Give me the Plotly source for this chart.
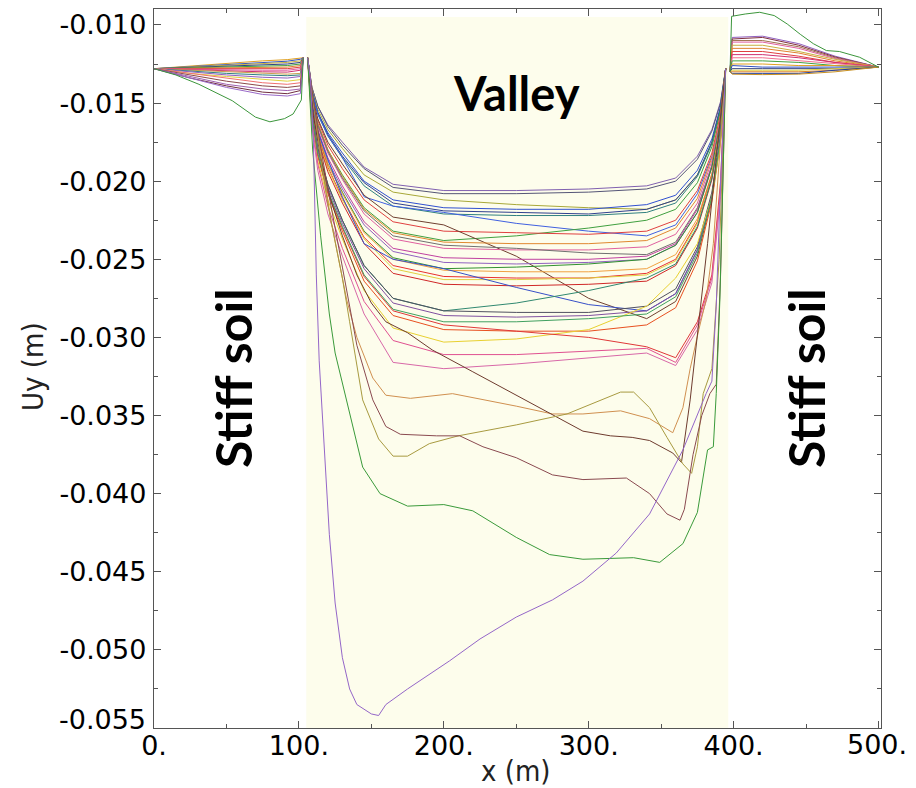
import plotly.graph_objects as go

# ---------------- data ----------------
# Left stiff-soil block
x_left = [0, 25, 50, 75, 92, 101, 103]
left_01 = [-0.0128, -0.01262, -0.01245, -0.0123, -0.01222, -0.01212, -0.0121]
left_02 = [-0.0128, -0.01266, -0.01252, -0.0124, -0.01232, -0.0122, -0.0121]
left_03 = [-0.0128, -0.0127, -0.01258, -0.01248, -0.0124, -0.0123, -0.0121]
left_04 = [-0.0128, -0.01272, -0.01264, -0.01256, -0.0125, -0.0124, -0.0121]
left_05 = [-0.0128, -0.01275, -0.0127, -0.01264, -0.0126, -0.0125, -0.0121]
left_06 = [-0.0128, -0.01278, -0.01275, -0.01272, -0.0127, -0.0126, -0.0121]
left_07 = [-0.0128, -0.0128, -0.0128, -0.0128, -0.0128, -0.0127, -0.0121]
left_08 = [-0.0128, -0.01284, -0.01288, -0.0129, -0.0129, -0.0128, -0.0121]
left_09 = [-0.0128, -0.01288, -0.01295, -0.0130, -0.01302, -0.0129, -0.0121]
left_10 = [-0.0128, -0.0129, -0.0130, -0.0131, -0.01315, -0.0131, -0.0121]
left_11 = [-0.0128, -0.01295, -0.0131, -0.0132, -0.01325, -0.0132, -0.0121]
left_12 = [-0.0128, -0.0130, -0.0132, -0.01335, -0.0134, -0.0133, -0.0121]
left_13 = [-0.0128, -0.0131, -0.0133, -0.0135, -0.0136, -0.0135, -0.0121]
left_14 = [-0.0128, -0.0131, -0.0134, -0.0137, -0.0138, -0.0137, -0.0121]
left_15 = [-0.0128, -0.0132, -0.0136, -0.0139, -0.0140, -0.0139, -0.0121]
left_16 = [-0.0128, -0.0133, -0.0138, -0.0141, -0.0142, -0.0141, -0.0121]
left_17 = [-0.0128, -0.0134, -0.0139, -0.0143, -0.0144, -0.0142, -0.0121]
left_18 = [-0.0128, -0.0134, -0.0140, -0.01445, -0.01455, -0.0144, -0.0121]
x_left_green = [0, 15, 31, 54, 70, 80, 90, 96, 101.7, 103]
left_green = [-0.0128, -0.0132, -0.0138, -0.01485, -0.0159, -0.0162, -0.0160, -0.0157, -0.0148, -0.0121]
left_colors = ["#E0A020", "#3050C0", "#C8B040", "#304080", "#40A040", "#E08030",
               "#E04040", "#E060A0", "#D03070", "#C8A050", "#2F8080", "#9060C0",
               "#E0D040", "#F07070", "#8B4A4A", "#A060B0", "#703040", "#9A6AC8"]

# Right stiff-soil block
x_right = [397.5, 399, 420, 445, 470, 500]
right_01 = [-0.0130, -0.0108, -0.01072, -0.0112, -0.0120, -0.0127]
right_02 = [-0.0130, -0.0109, -0.0108, -0.0113, -0.01205, -0.0127]
right_03 = [-0.0130, -0.0110, -0.0110, -0.0114, -0.0121, -0.0127]
right_04 = [-0.0130, -0.0111, -0.0111, -0.0115, -0.01215, -0.0127]
right_05 = [-0.0130, -0.0113, -0.0113, -0.0117, -0.0122, -0.0127]
right_06 = [-0.0130, -0.0115, -0.0115, -0.0118, -0.0123, -0.0127]
right_07 = [-0.0130, -0.0117, -0.0117, -0.0120, -0.0124, -0.0127]
right_08 = [-0.0130, -0.0119, -0.0119, -0.0121, -0.0124, -0.0127]
right_09 = [-0.0130, -0.0121, -0.0121, -0.0123, -0.0125, -0.0127]
right_10 = [-0.0130, -0.0123, -0.0123, -0.0124, -0.0126, -0.0127]
right_11 = [-0.0130, -0.0125, -0.0125, -0.0126, -0.0126, -0.0127]
right_12 = [-0.0130, -0.0126, -0.0127, -0.0127, -0.0127, -0.0127]
right_13 = [-0.0130, -0.0128, -0.0128, -0.0128, -0.0128, -0.0127]
right_14 = [-0.0130, -0.0129, -0.0129, -0.0129, -0.0128, -0.0127]
right_15 = [-0.0130, -0.0130, -0.0130, -0.0130, -0.0129, -0.0127]
right_16 = [-0.0130, -0.0131, -0.0131, -0.0131, -0.0129, -0.0127]
right_17 = [-0.0130, -0.01315, -0.01318, -0.01315, -0.0130, -0.0127]
x_right_green = [397.5, 398.6, 408, 418, 428, 437, 446, 455, 464, 473, 487, 500]
right_green = [-0.0130, -0.00945, -0.0093, -0.00919, -0.0094, -0.00994, -0.0106,
               -0.0112, -0.01164, -0.0117, -0.01207, -0.0127]
right_colors = ["#9060C0", "#803040", "#A07050", "#E060A0", "#C8B040", "#E08030",
                "#E04040", "#D03070", "#F07090", "#40A040", "#E0A020", "#3050C0",
                "#304080", "#E0D040", "#E08020", "#2040A0", "#C89020"]

# Valley block: upper family on a common x grid
x_valley = [106, 109, 113, 120, 130, 145, 165, 200, 250, 300, 340, 360, 375, 385, 391, 394.5]
v01 = [-0.0121, -0.0140, -0.0152, -0.0164, -0.0175, -0.0191, -0.0202, -0.0206, -0.0206, -0.0205, -0.0203, -0.0198, -0.0184, -0.0167, -0.0149, -0.0128]
v02 = [-0.0121, -0.0140, -0.0152, -0.0165, -0.0177, -0.0192, -0.0204, -0.0208, -0.0208, -0.0207, -0.0205, -0.0200, -0.0186, -0.0168, -0.0150, -0.0128]
v03 = [-0.0121, -0.0141, -0.0154, -0.0167, -0.0179, -0.0196, -0.0207, -0.0212, -0.0215, -0.0217, -0.0218, -0.0212, -0.0196, -0.0175, -0.0153, -0.0128]
v04 = [-0.0121, -0.0142, -0.0156, -0.0169, -0.0182, -0.0200, -0.0212, -0.0217, -0.0218, -0.0218, -0.0215, -0.0209, -0.0193, -0.0173, -0.0152, -0.0128]
v05 = [-0.0121, -0.0143, -0.0156, -0.0170, -0.0184, -0.0201, -0.0214, -0.0219, -0.0220, -0.0221, -0.0218, -0.0212, -0.0196, -0.0175, -0.0153, -0.0128]
v06 = [-0.0121, -0.0143, -0.0157, -0.0171, -0.0185, -0.0203, -0.0216, -0.0221, -0.0222, -0.0222, -0.0220, -0.0214, -0.0197, -0.0176, -0.0154, -0.0128]
v07 = [-0.0121, -0.0143, -0.0157, -0.0171, -0.0185, -0.0210, -0.0216, -0.0220, -0.0227, -0.0232, -0.0235, -0.0228, -0.0208, -0.0184, -0.0158, -0.0128]
v08 = [-0.0121, -0.0147, -0.0163, -0.0180, -0.0196, -0.0217, -0.0232, -0.0238, -0.0235, -0.0230, -0.0225, -0.0218, -0.0201, -0.0178, -0.0155, -0.0128]
v09 = [-0.0121, -0.0145, -0.0161, -0.0177, -0.0192, -0.0212, -0.0226, -0.0232, -0.0233, -0.0234, -0.0232, -0.0225, -0.0206, -0.0182, -0.0157, -0.0128]
v10 = [-0.0121, -0.0145, -0.0160, -0.0175, -0.0189, -0.0209, -0.0223, -0.0228, -0.0248, -0.0275, -0.0288, -0.0277, -0.0248, -0.0211, -0.0173, -0.0128]
v11 = [-0.0121, -0.0147, -0.0163, -0.0180, -0.0197, -0.0218, -0.0233, -0.0239, -0.0240, -0.0240, -0.0238, -0.0230, -0.0211, -0.0185, -0.0159, -0.0128]
v12 = [-0.0121, -0.0148, -0.0165, -0.0182, -0.0199, -0.0221, -0.0237, -0.0243, -0.0244, -0.0244, -0.0242, -0.0234, -0.0214, -0.0187, -0.0160, -0.0128]
v13 = [-0.0121, -0.0147, -0.0164, -0.0181, -0.0198, -0.0219, -0.0235, -0.0241, -0.0243, -0.0246, -0.0247, -0.0239, -0.0217, -0.0190, -0.0161, -0.0128]
v14 = [-0.0121, -0.0149, -0.0167, -0.0185, -0.0203, -0.0226, -0.0243, -0.0249, -0.0250, -0.0250, -0.0248, -0.0240, -0.0218, -0.0190, -0.0162, -0.0128]
v15 = [-0.0121, -0.0150, -0.0168, -0.0187, -0.0205, -0.0228, -0.0245, -0.0252, -0.0253, -0.0252, -0.0250, -0.0241, -0.0220, -0.0191, -0.0162, -0.0128]
v16 = [-0.0121, -0.0151, -0.0170, -0.0189, -0.0207, -0.0232, -0.0249, -0.0256, -0.0255, -0.0253, -0.0250, -0.0241, -0.0220, -0.0191, -0.0162, -0.0128]
v17 = [-0.0121, -0.0151, -0.0170, -0.0189, -0.0208, -0.0233, -0.0250, -0.0257, -0.0258, -0.0258, -0.0256, -0.0247, -0.0224, -0.0195, -0.0164, -0.0128]
v18 = [-0.0121, -0.0152, -0.0171, -0.0191, -0.0211, -0.0236, -0.0254, -0.0261, -0.0262, -0.0262, -0.0259, -0.0250, -0.0226, -0.0196, -0.0165, -0.0128]
v19 = [-0.0121, -0.0152, -0.0172, -0.0192, -0.0212, -0.0237, -0.0256, -0.0263, -0.0263, -0.0262, -0.0260, -0.0251, -0.0227, -0.0197, -0.0165, -0.0128]
v20 = [-0.0121, -0.0153, -0.0173, -0.0194, -0.0214, -0.0240, -0.0259, -0.0266, -0.0267, -0.0266, -0.0264, -0.0254, -0.0230, -0.0199, -0.0166, -0.0128]
v21 = [-0.0121, -0.0150, -0.0168, -0.0186, -0.0210, -0.0240, -0.0250, -0.0256, -0.0268, -0.0279, -0.0283, -0.0272, -0.0244, -0.0209, -0.0171, -0.0128]
v22 = [-0.0121, -0.0157, -0.0179, -0.0202, -0.0225, -0.0254, -0.0275, -0.0283, -0.0278, -0.0270, -0.0262, -0.0253, -0.0229, -0.0198, -0.0166, -0.0128]
v23 = [-0.0121, -0.0157, -0.0179, -0.0202, -0.0225, -0.0254, -0.0275, -0.0283, -0.0284, -0.0284, -0.0280, -0.0269, -0.0242, -0.0207, -0.0171, -0.0128]
v24 = [-0.0121, -0.0157, -0.0180, -0.0204, -0.0227, -0.0256, -0.0278, -0.0286, -0.0287, -0.0286, -0.0283, -0.0272, -0.0244, -0.0209, -0.0171, -0.0128]
v25 = [-0.0121, -0.0159, -0.0184, -0.0208, -0.0232, -0.0264, -0.0286, -0.0295, -0.0296, -0.0296, -0.0292, -0.0281, -0.0251, -0.0213, -0.0174, -0.0128]
v26 = [-0.0121, -0.0161, -0.0187, -0.0212, -0.0237, -0.0270, -0.0294, -0.0303, -0.0301, -0.0295, -0.0280, -0.0262, -0.0240, -0.0210, -0.0175, -0.0128]
v27 = [-0.0121, -0.0159, -0.0183, -0.0207, -0.0230, -0.0261, -0.0283, -0.0292, -0.0296, -0.0300, -0.0306, -0.0313, -0.0290, -0.0260, -0.0200, -0.0128]
v28 = [-0.0121, -0.0163, -0.0189, -0.0216, -0.0243, -0.0277, -0.0302, -0.0311, -0.0311, -0.0309, -0.0307, -0.0316, -0.0292, -0.0262, -0.0205, -0.0128]
v29 = [-0.0121, -0.0165, -0.0193, -0.0221, -0.0248, -0.0285, -0.0316, -0.0320, -0.0317, -0.0313, -0.0310, -0.0318, -0.0295, -0.0265, -0.0210, -0.0128]
v30 = [-0.0121, -0.0158, -0.0182, -0.0206, -0.0229, -0.0260, -0.0282, -0.0290, -0.0290, -0.0288, -0.0285, -0.0274, -0.0246, -0.0210, -0.0172, -0.0128]
valley_colors = ["#8060B0", "#555577", "#A8A838", "#3050D0", "#304090", "#2F8080",
                 "#4060E0", "#40A040", "#E04040", "#704030", "#E08830", "#E060A0",
                 "#707070", "#C040A0", "#9060C0", "#309030", "#F0A040", "#E83030",
                 "#E0D040", "#D02828", "#3850C8", "#308870", "#505060", "#8050A0",
                 "#E85020", "#E8D030", "#E03838", "#E05090", "#D868A8", "#40A060"]

# Valley block: deeper curves with their own x positions
orange_x = [106, 110, 115, 122, 133, 140, 151, 160, 177, 206, 250, 275, 296, 322, 342, 354, 358, 365, 370, 376, 381, 386, 390, 394.5]
orange_y = [-0.0121, -0.0150, -0.0180, -0.0225, -0.0276, -0.0300, -0.0326, -0.0337, -0.0339, -0.0336, -0.0344, -0.0349, -0.0349, -0.0347, -0.0352, -0.0359, -0.0361, -0.0345, -0.0320, -0.0295, -0.0276, -0.0240, -0.0190, -0.0128]
browndiag_x = [106, 110, 115, 122, 130, 140, 150, 160, 175, 192, 220, 250, 280, 296, 315, 330, 342, 358, 364, 370, 376, 382, 388, 394.5]
browndiag_y = [-0.0121, -0.0158, -0.0185, -0.0212, -0.0235, -0.0260, -0.0278, -0.0290, -0.0297, -0.0308, -0.0322, -0.0337, -0.0352, -0.0360, -0.0363, -0.0364, -0.0366, -0.0374, -0.0380, -0.0340, -0.0290, -0.0240, -0.0185, -0.0128]
olive_x = [106, 110, 115, 120, 130, 135, 144, 155, 165, 175, 190, 210, 250, 285, 308, 322, 331, 342, 354, 365, 371, 375, 379, 385, 390, 394.5]
olive_y = [-0.0121, -0.0150, -0.0185, -0.0215, -0.0262, -0.0290, -0.0340, -0.0365, -0.0376, -0.0376, -0.0368, -0.0363, -0.0356, -0.0349, -0.0340, -0.0335, -0.0335, -0.0345, -0.0364, -0.0381, -0.0387, -0.0370, -0.0336, -0.0320, -0.0250, -0.0128]
maroon_x = [106, 110, 115, 120, 130, 140, 151, 160, 170, 195, 211, 227, 250, 275, 296, 326, 342, 354, 363, 366, 372, 378, 383.6, 388, 391, 394.5]
maroon_y = [-0.0121, -0.0148, -0.0178, -0.0205, -0.0255, -0.0305, -0.0340, -0.0357, -0.0362, -0.0363, -0.0363, -0.0370, -0.0377, -0.0388, -0.0391, -0.0390, -0.0400, -0.0413, -0.0417, -0.0410, -0.0375, -0.0350, -0.0336, -0.0330, -0.0260, -0.0128]
green_x = [106, 109.5, 115, 121, 125, 133, 144, 156, 175, 200, 220, 250, 273, 296, 331, 349, 365, 375, 382, 386, 388, 390.5, 393, 394.5]
green_y = [-0.0121, -0.0180, -0.0235, -0.0285, -0.0310, -0.0340, -0.0383, -0.0400, -0.0408, -0.0407, -0.0411, -0.0428, -0.0439, -0.0442, -0.0441, -0.0444, -0.0432, -0.0412, -0.0372, -0.0370, -0.0336, -0.0276, -0.0180, -0.0128]
purple_x = [106, 108, 110, 112, 114, 117, 121, 125, 130, 135, 140, 150, 155, 160, 175, 204, 225, 250, 275, 296, 319, 342, 365, 381, 385, 388, 391, 394.5]
purple_y = [-0.0121, -0.0135, -0.0175, -0.0260, -0.0315, -0.0365, -0.0426, -0.0470, -0.0505, -0.0525, -0.0535, -0.0541, -0.0542, -0.0535, -0.0525, -0.0507, -0.0493, -0.0479, -0.0468, -0.0456, -0.0438, -0.0413, -0.0372, -0.0336, -0.0328, -0.0280, -0.0200, -0.0128]
deep_colors = ["#D09050", "#6E3B2E", "#A89A40", "#8A4A50", "#3A9A3A", "#9466C8"]

# Axis ticks (the two end labels are placed as annotations so they are not clipped)
x_tickvals = [0, 100, 200, 300, 400, 500]
x_ticktext = ["0.", "100.", "200.", "300.", "400.", ""]
y_tickvals = [-0.055, -0.050, -0.045, -0.040, -0.035, -0.030, -0.025, -0.020, -0.015, -0.010]
y_ticktext = ["", "-0.050", "-0.045", "-0.040", "-0.035", "-0.030", "-0.025", "-0.020", "-0.015", "-0.010"]
valley_span = [105.1, 396.3]

# ---------------- figure ----------------
fig = go.Figure()

def add_line(xs, ys, color):
    fig.add_trace(go.Scatter(x=xs, y=ys, mode="lines", hoverinfo="skip",
                             line=dict(color=color, width=1), showlegend=False))

left_series = [left_01, left_02, left_03, left_04, left_05, left_06, left_07, left_08, left_09,
               left_10, left_11, left_12, left_13, left_14, left_15, left_16, left_17, left_18]
for ys, c in zip(left_series, left_colors):
    add_line(x_left, ys, c)
add_line(x_left_green, left_green, "#3C963C")

right_series = [right_01, right_02, right_03, right_04, right_05, right_06, right_07, right_08, right_09,
                right_10, right_11, right_12, right_13, right_14, right_15, right_16, right_17]
for ys, c in zip(right_series, right_colors):
    add_line(x_right, ys, c)
add_line(x_right_green, right_green, "#3C963C")

valley_series = [v01, v02, v03, v04, v05, v06, v07, v08, v09, v10, v11, v12, v13, v14, v15,
                 v16, v17, v18, v19, v20, v21, v22, v23, v24, v25, v26, v27, v28, v29, v30]
for ys, c in zip(valley_series, valley_colors):
    add_line(x_valley, ys, c)

deep_series = [(orange_x, orange_y), (browndiag_x, browndiag_y), (olive_x, olive_y),
               (maroon_x, maroon_y), (green_x, green_y), (purple_x, purple_y)]
for (xs, ys), c in zip(deep_series, deep_colors):
    add_line(xs, ys, c)

fig.add_shape(type="rect", xref="x", yref="y", x0=valley_span[0], x1=valley_span[1],
              y0=-0.055, y1=-0.0095, fillcolor="#FDFDEC", line=dict(width=0), layer="below")

tick_font = dict(family="DejaVu Sans, Verdana, sans-serif", size=27, color="#000000")
axis_common = dict(showgrid=False, zeroline=False, showline=True, linecolor="#555555",
                   linewidth=1.3, mirror="ticks", ticks="inside", ticklen=7, tickwidth=1,
                   tickcolor="#555555", tickfont=tick_font)

fig.update_xaxes(range=[0, 501.7], tickvals=x_tickvals, ticktext=x_ticktext,
                 minor=dict(dtick=50, tick0=0, ticks="inside", ticklen=4, tickcolor="#555555"),
                 ticklabelstandoff=-7, **axis_common)
fig.update_yaxes(range=[-0.055, -0.00898], tickvals=y_tickvals, ticktext=y_ticktext,
                 minor=dict(dtick=0.0025, tick0=-0.055, ticks="inside", ticklen=4, tickcolor="#555555"),
                 ticklabelstandoff=1, **axis_common)

# page has an 8px body margin; figure sized so the plot box lands at page px 154..881 x 9..728
OFF = 8
W, H = 900, 780
ML, MR, MT, MB = 146, 27, 1, 60
pw, ph = W - ML - MR, H - MT - MB

def px(page_x):
    return (page_x - OFF - ML) / pw

def py(page_y):
    return (OFF + H - MB - page_y) / ph

valley_font = dict(family="Lato, Liberation Sans, sans-serif", size=47, color="#000000")
soil_font = dict(family="Lato, Liberation Sans, sans-serif", size=50, color="#000000")
narrow_font = dict(family="DejaVu Sans Condensed, Liberation Sans Narrow, DejaVu Sans, sans-serif",
                   size=29, color="#222222")

def note(text, x, y, font, angle=0, xanchor="center"):
    return dict(text=text, x=px(x), y=py(y), xref="paper", yref="paper", showarrow=False,
                textangle=angle, font=font, xanchor=xanchor, yanchor="middle")

annotations = [
    note("<b>Valley</b>", 516, 93, valley_font),
    note("<b>Stiff soil</b>", 233, 378, soil_font, angle=-90),
    note("<b>Stiff soil</b>", 806, 378, soil_font, angle=-90),
    note("Uy (m)", 33, 367, narrow_font, angle=-90),
    note("x (m)", 516, 771, narrow_font),
    note("-0.055", 148, 719, tick_font, xanchor="right"),
    note("500.", 877, 744, tick_font),
]

fig.update_layout(width=W, height=H, margin=dict(l=ML, r=MR, t=MT, b=MB, pad=0),
                  paper_bgcolor="white", plot_bgcolor="white", showlegend=False,
                  annotations=annotations)

fig.write_html("out.html")
